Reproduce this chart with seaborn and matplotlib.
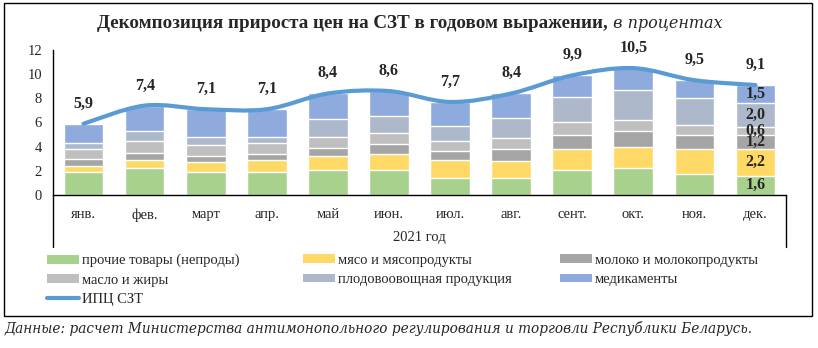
import matplotlib
matplotlib.use("Agg")
import matplotlib.pyplot as plt
import seaborn as sns
import numpy as np
import pandas as pd
from matplotlib.path import Path
from matplotlib.patches import PathPatch, Rectangle, Patch
from matplotlib.lines import Line2D

months = ['янв.', 'фев.', 'март', 'апр.', 'май', 'июн.', 'июл.', 'авг.', 'сент.', 'окт.', 'ноя.', 'дек.']
other = [1.9, 2.2, 1.9, 1.9, 2.1, 2.1, 1.4, 1.4, 2.1, 2.2, 1.7, 1.6]
meat = [0.5, 0.7, 0.8, 1.0, 1.1, 1.3, 1.5, 1.4, 1.7, 1.8, 2.1, 2.2]
milk = [0.6, 0.6, 0.5, 0.5, 0.7, 0.8, 0.7, 1.0, 1.2, 1.3, 1.2, 1.2]
oil = [0.8, 1.0, 0.9, 0.9, 0.9, 0.9, 0.9, 0.9, 1.0, 0.9, 0.8, 0.6]
fruit = [0.5, 0.8, 0.7, 0.5, 1.5, 1.4, 1.2, 1.7, 2.1, 2.5, 2.2, 2.0]
meds = [1.6, 2.1, 2.3, 2.3, 2.1, 2.1, 2.0, 2.0, 1.8, 1.8, 1.5, 1.5]
cpi = [5.9, 7.4, 7.1, 7.1, 8.4, 8.6, 7.7, 8.4, 9.9, 10.5, 9.5, 9.1]

series_names = ['прочие товары (непроды)', 'мясо и мясопродукты', 'молоко и молокопродукты',
                'масло и жиры', 'плодовоовощная продукция', 'медикаменты']
series_vals = [other, meat, milk, oil, fruit, meds]
colors = ['#A9D18E', '#FFD966', '#A5A5A5', '#BFBFBF', '#ADB9CA', '#8FAADC']
line_name = 'ИПЦ СЗТ'
line_color = '#5B9BD5'
xlabel = '2021 год'
title_bold = 'Декомпозиция прироста цен на СЗТ в годовом выражении,'
title_ital = ' в процентах'
footer = 'Данные: расчет Министерства антимонопольного регулирования и торговли Республики Беларусь.'

sns.set_style('white')
plt.rcParams['font.family'] = ['Liberation Serif', 'DejaVu Serif']

W, H = 818, 348
fig = plt.figure(figsize=(W / 100, H / 100), dpi=100)
ax = fig.add_axes([53 / W, 1 - 195 / H, (786 - 53) / W, 145 / H])

df = pd.DataFrame({'month': months})
cum = np.cumsum(np.array(series_vals), axis=0)
for i in range(len(series_vals) - 1, -1, -1):
    df['v'] = cum[i]
    sns.barplot(data=df, x='month', y='v', order=months, color=colors[i],
                saturation=1, width=0.65, ax=ax, zorder=2)

# smooth line through CPI points (Bezier through the data points)
pts = np.column_stack([np.arange(len(cpi)), cpi]).astype(float)
verts = [tuple(pts[0])]
codes = [Path.MOVETO]
n = len(pts)
for i in range(n - 1):
    p0 = pts[max(i - 1, 0)]
    p1 = pts[i]
    p2 = pts[i + 1]
    p3 = pts[min(i + 2, n - 1)]
    c1 = p1 + (p2 - p0) / 6
    c2 = p2 - (p3 - p1) / 6
    verts += [tuple(c1), tuple(c2), tuple(p2)]
    codes += [Path.CURVE4] * 3
ax.add_patch(PathPatch(Path(verts, codes), fill=False, edgecolor=line_color,
                       lw=3, capstyle='round', zorder=4))

for i, v in enumerate(cpi):
    ax.annotate(f"{v:.1f}".replace('.', ','), (i, v), xytext=(0, 14.5),
                textcoords='offset points', ha='center', va='center',
                fontsize=11.5, fontweight='bold', zorder=5)

# segment labels for December
last = len(months) - 1
for i in range(len(series_vals)):
    v = series_vals[i][last]
    mid = cum[i][last] - v / 2
    ax.text(last, mid, f"{v:.1f}".replace('.', ','), ha='center', va='center',
            fontsize=11.5, fontweight='bold', zorder=5)

ax.set_xlim(-0.5, len(months) - 0.5)
ax.set_ylim(0, 12)
ax.set_yticks(range(0, 13, 2))
ax.set_xlabel('')
ax.set_ylabel('')
ax.tick_params(axis='both', length=0, labelsize=10.5)
ax.tick_params(axis='y', pad=8)
ax.tick_params(axis='x', pad=9.5)
for s in ['top', 'right']:
    ax.spines[s].set_visible(False)
for s in ['left', 'bottom']:
    ax.spines[s].set_color('black')
    ax.spines[s].set_linewidth(1)
ax.set_facecolor('none')
ext = 52 / 145
ax.plot([0, 0], [0, -ext], transform=ax.transAxes, color='black', lw=1, clip_on=False)
ax.plot([1, 1], [0, -ext], transform=ax.transAxes, color='black', lw=1, clip_on=False)

fig.text((53 + 786) / 2 / W, 1 - 238 / H, xlabel, ha='center', va='center', fontsize=10.5)

# legend: three columns
handles = [Patch(facecolor=c, edgecolor='none') for c in colors]
line_handle = Line2D([0], [0], color=line_color, lw=3)
cols = [
    ([handles[0], handles[3], line_handle], [series_names[0], series_names[3], line_name], 47),
    ([handles[1], handles[4]], [series_names[1], series_names[4]], 303),
    ([handles[2], handles[5]], [series_names[2], series_names[5]], 560),
]
for hs, ls, x0 in cols:
    fig.legend(hs, ls, loc='upper left', bbox_to_anchor=(x0 / W, 1 - 254 / H),
               frameon=False, fontsize=10.5, borderpad=0, borderaxespad=0,
               handlelength=2.2, handleheight=0.55, handletextpad=0.2,
               labelspacing=0.42)

# title with mixed styles
t1 = fig.text(97 / W, 1 - 23 / H, title_bold, ha='left', va='center',
              fontsize=13.7, fontweight='bold')
fig.canvas.draw()
bb = t1.get_window_extent(renderer=fig.canvas.get_renderer())
fig.text(bb.x1 / W, 1 - 23 / H, title_ital, ha='left', va='center',
         fontsize=11.5, fontstyle='italic', family=['DejaVu Serif'])

fig.patches.append(Rectangle((4 / W, 1 - 316 / H), (812 - 4) / W, (316 - 3) / H,
                             transform=fig.transFigure, fill=False,
                             edgecolor='black', lw=1))
fig.text(5 / W, 1 - 328 / H, footer, ha='left', va='center', fontsize=9.85,
         fontstyle='italic', family=['DejaVu Serif'])

fig.savefig('out.png', dpi=100, facecolor='white')
